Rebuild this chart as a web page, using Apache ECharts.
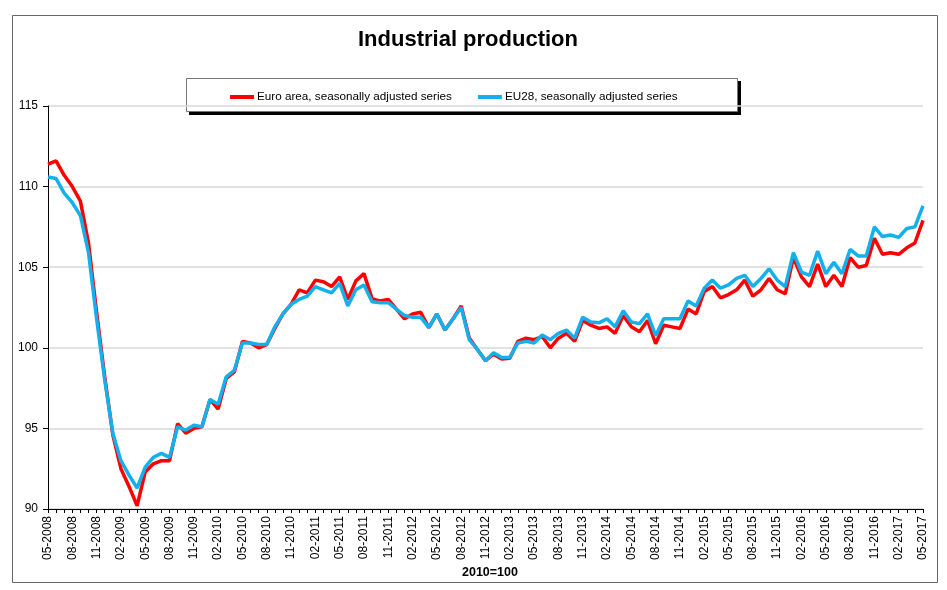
<!DOCTYPE html>
<html>
<head>
<meta charset="utf-8">
<script src="https://cdn.jsdelivr.net/npm/echarts@6/dist/echarts.min.js"></script>
<style>html,body{margin:0;padding:0;background:#fff;}#c{width:947px;height:590px;}</style>
</head>
<body>
<div id="c"></div>
<script>
const months = [
"05-2008","06-2008","07-2008","08-2008","09-2008","10-2008","11-2008","12-2008",
"01-2009","02-2009","03-2009","04-2009","05-2009","06-2009","07-2009","08-2009","09-2009","10-2009","11-2009","12-2009",
"01-2010","02-2010","03-2010","04-2010","05-2010","06-2010","07-2010","08-2010","09-2010","10-2010","11-2010","12-2010",
"01-2011","02-2011","03-2011","04-2011","05-2011","06-2011","07-2011","08-2011","09-2011","10-2011","11-2011","12-2011",
"01-2012","02-2012","03-2012","04-2012","05-2012","06-2012","07-2012","08-2012","09-2012","10-2012","11-2012","12-2012",
"01-2013","02-2013","03-2013","04-2013","05-2013","06-2013","07-2013","08-2013","09-2013","10-2013","11-2013","12-2013",
"01-2014","02-2014","03-2014","04-2014","05-2014","06-2014","07-2014","08-2014","09-2014","10-2014","11-2014","12-2014",
"01-2015","02-2015","03-2015","04-2015","05-2015","06-2015","07-2015","08-2015","09-2015","10-2015","11-2015","12-2015",
"01-2016","02-2016","03-2016","04-2016","05-2016","06-2016","07-2016","08-2016","09-2016","10-2016","11-2016","12-2016",
"01-2017","02-2017","03-2017","04-2017","05-2017"
];
const euroArea = [
111.4,111.6,110.7,110.0,109.1,106.5,102.2,98.2,94.6,92.5,91.4,90.2,
92.3,92.8,93.0,93.0,95.3,94.7,95.0,95.1,96.8,96.2,98.1,98.5,
100.4,100.3,100.0,100.2,101.2,102.1,102.7,103.6,103.4,104.2,104.1,103.8,
104.4,103.0,104.15,104.6,103.05,102.9,103.0,102.4,101.8,102.1,102.2,101.25,
102.1,101.1,101.8,102.6,100.6,99.9,99.2,99.6,99.3,99.35,100.4,100.6,
100.5,100.7,100.0,100.6,100.9,100.4,101.7,101.4,101.2,101.3,100.9,102.0,
101.3,101.0,101.7,100.25,101.4,101.3,101.2,102.4,102.1,103.5,103.8,103.1,
103.3,103.6,104.2,103.2,103.6,104.3,103.6,103.35,105.6,104.4,103.8,105.2,
103.8,104.5,103.8,105.6,105.0,105.1,106.8,105.8,105.9,105.8,106.2,106.5,107.9
];
const eu28 = [
110.6,110.5,109.6,109.0,108.2,105.9,101.8,98.0,94.7,93.0,92.1,91.3,
92.6,93.2,93.45,93.2,95.1,94.9,95.2,95.1,96.8,96.5,98.2,98.6,
100.3,100.3,100.2,100.2,101.3,102.1,102.7,103.0,103.2,103.8,103.6,103.4,
104.0,102.6,103.6,103.9,102.85,102.8,102.8,102.4,102.0,101.9,101.9,101.25,
102.1,101.1,101.8,102.5,100.5,99.9,99.2,99.7,99.4,99.4,100.3,100.4,
100.3,100.8,100.5,100.9,101.1,100.6,101.9,101.6,101.55,101.8,101.3,102.3,
101.6,101.5,102.1,100.75,101.8,101.8,101.8,102.9,102.6,103.7,104.2,103.7,
103.9,104.3,104.5,103.8,104.3,104.9,104.2,103.8,105.9,104.7,104.5,106.0,
104.6,105.3,104.6,106.1,105.7,105.7,107.5,106.9,107.0,106.85,107.4,107.5,108.8
];
const yTicks = {min: 90, max: 115, interval: 5};
const seriesNames = ["Euro area, seasonally adjusted series", "EU28, seasonally adjusted series"];

const chart = echarts.init(document.getElementById('c'), null, {renderer: 'canvas'});
const FONT = 'Liberation Sans, Arial, sans-serif';
chart.setOption({
  animation: false,
  backgroundColor: '#fff',
  title: {
    text: 'Industrial production',
    left: 353, top: 24,
    textStyle: {fontFamily: FONT, fontWeight: 'bold', fontSize: 22, color: '#000'}
  },
  legend: {
    left: 225, top: 86,
    padding: 5,
    itemGap: 26,
    itemWidth: 24, itemHeight: 4,
    icon: 'rect',
    textStyle: {fontFamily: FONT, fontSize: 11.7, color: '#000', padding: [0,0,0,-2]},
    data: seriesNames
  },
  grid: {left: 48, right: 24, top: 106, bottom: 81},
  xAxis: {
    type: 'category',
    data: months,
    boundaryGap: false,
    axisLine: {lineStyle: {color: '#000', width: 1}},
    axisTick: {show: true, interval: 0, length: 4, lineStyle: {color: '#000'}},
    axisLabel: {interval: 2, rotate: 90, fontFamily: FONT, fontSize: 12, color: '#000', margin: 7},
    splitLine: {show: false}
  },
  yAxis: {
    type: 'value',
    min: yTicks.min, max: yTicks.max, interval: yTicks.interval,
    axisLine: {show: true, lineStyle: {color: '#000', width: 1}},
    axisTick: {show: true, length: 5, lineStyle: {color: '#000'}},
    axisLabel: {fontFamily: FONT, fontSize: 12, color: '#000', margin: 10},
    splitLine: {show: true, lineStyle: {color: '#d9d9d9', width: 1.5}}
  },
  series: [
    {name: seriesNames[0], type: 'line', data: euroArea, symbol: 'none', color: '#ff0000',
     lineStyle: {width: 3.5, color: '#ff0000'}},
    {name: seriesNames[1], type: 'line', data: eu28, symbol: 'none', color: '#12b0ec',
     lineStyle: {width: 3.5, color: '#12b0ec'}}
  ],
  graphic: [
    {type: 'rect', shape: {x: 12.5, y: 15.5, width: 925, height: 567}, silent: true, z: -10,
     style: {fill: 'none', stroke: '#666', lineWidth: 1}},
    {type: 'rect', shape: {x: 189, y: 81, width: 552, height: 34}, silent: true, z: -9,
     style: {fill: '#000', stroke: 'none'}},
    {type: 'rect', shape: {x: 186.5, y: 78.5, width: 551, height: 33}, silent: true, z: -8,
     style: {fill: '#fff', stroke: '#777', lineWidth: 1}},
    {type: 'text', left: 462, top: 566,
     style: {text: '2010=100', font: 'bold 12.5px ' + FONT, fill: '#000'}}
  ]
});
</script>
</body>
</html>
